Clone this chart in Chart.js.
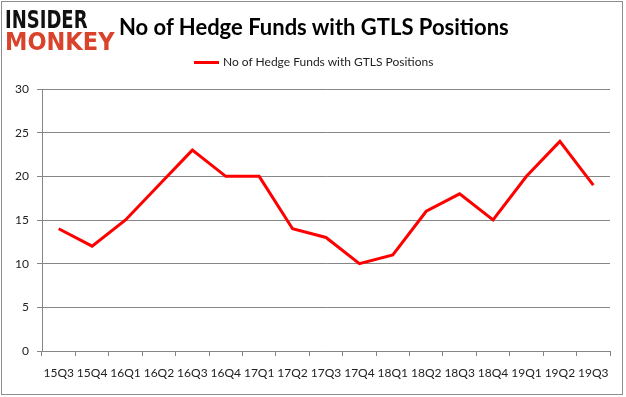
<!DOCTYPE html>
<html>
<head>
<meta charset="utf-8">
<script src="https://cdn.jsdelivr.net/npm/chart.js@4"></script>
<style>
  html, body { margin: 0; padding: 0; background: #fff; }
  #wrap { position: relative; width: 626px; height: 397px; overflow: hidden; }
  #frame { position: absolute; left: 1px; top: 1px; width: 620px; height: 392px; border: 1px solid #8c8c8c; box-sizing: content-box; pointer-events: none; }
  #logo1, #logo2 { position: absolute; left: 5px; font-family: "DejaVu Sans", sans-serif; font-weight: 900; line-height: 1; white-space: nowrap; transform-origin: left top; }
  #logo1 { top: 7px; font-size: 25px; color: #111; transform: scaleX(0.72); }
  #logo2 { top: 29px; font-size: 25px; color: #d9422b; transform: scaleX(0.9); }
  #title { position: absolute; left: 119px; top: 13px; font-family: Lato, sans-serif; font-weight: bold; font-size: 22px; color: #000; white-space: nowrap; }
  #legend { position: absolute; left: 194px; top: 54px; height: 16px; line-height: 16px; font-family: Lato, sans-serif; font-size: 12px; color: #222; white-space: nowrap; }
  #legend .ln { display: inline-block; width: 25px; height: 3px; background: #ff0000; vertical-align: middle; margin-right: 4px; }
  #c { position: absolute; left: 0; top: 0; }
</style>
</head>
<body>
<div id="wrap">
  <canvas id="c" width="626" height="397"></canvas>
  <div id="logo1">INSIDER</div>
  <div id="logo2">MONKEY</div>
  <div id="title">No of Hedge Funds with GTLS Positions</div>
  <div id="legend"><span class="ln"></span><span id="legtxt">No of Hedge Funds with GTLS Positions</span></div>
  <div id="frame"></div>
</div>
<script>
const categories = ["15Q3","15Q4","16Q1","16Q2","16Q3","16Q4","17Q1","17Q2","17Q3","17Q4","18Q1","18Q2","18Q3","18Q4","19Q1","19Q2","19Q3"];
const hedgeFunds = [14,12,15,19,23,20,20,14,13,10,11,16,18,15,20,24,19];
const seriesName = "No of Hedge Funds with GTLS Positions";
const yTicks = [0,5,10,15,20,25,30];

const tickFont = { family: "Lato, sans-serif", size: 12 };

new Chart(document.getElementById('c'), {
  type: 'line',
  data: {
    labels: categories,
    datasets: [{
      label: seriesName,
      data: hedgeFunds,
      borderColor: '#ff0000',
      backgroundColor: '#ff0000',
      borderWidth: 3,
      pointRadius: 0,
      tension: 0,
      fill: false
    }]
  },
  options: {
    responsive: false,
    animation: false,
    devicePixelRatio: 1,
    layout: { padding: { top: 89, right: 16, left: 0, bottom: 0 } },
    plugins: { legend: { display: false }, title: { display: false }, tooltip: { enabled: false } },
    scales: {
      x: {
        offset: true,
        grid: { display: true, offset: true, drawOnChartArea: false, drawTicks: true, tickLength: 5, color: '#868686' },
        border: { display: true, color: '#868686', width: 1 },
        ticks: { font: tickFont, color: '#222', padding: 10, maxRotation: 0, autoSkip: false },
        afterFit: s => { s.height = 46; }
      },
      y: {
        min: 0, max: 30,
        afterBuildTicks: s => { s.ticks = yTicks.map(v => ({ value: v })); },
        grid: { color: '#868686', tickLength: 5, drawTicks: true },
        border: { display: true, color: '#868686', width: 1 },
        ticks: { font: tickFont, color: '#222', padding: 8 },
        afterFit: s => { s.width = 42; }
      }
    }
  }
});
</script>
</body>
</html>
